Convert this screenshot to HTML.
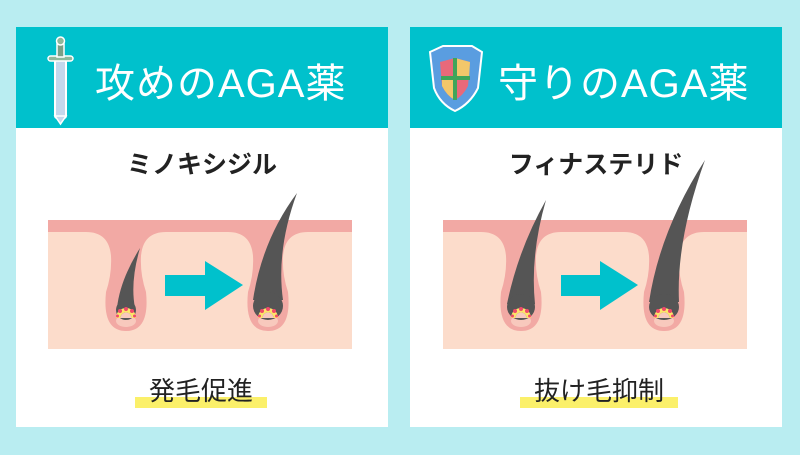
<!DOCTYPE html>
<html><head><meta charset="utf-8"><style>
body{margin:0;width:800px;height:450px;background:#b9edf1;overflow:hidden;font-family:"Liberation Sans","Noto Sans CJK JP",sans-serif}
</style></head><body>
<svg width="800" height="450" viewBox="0 0 800 450" xmlns="http://www.w3.org/2000/svg">
<defs>
<g id="fol">
  <path d="M-40,232 Q-17,232 -15,256 Q-14,274 -20,292 Q-24,331 0,331 Q24,331 20,292 Q14,274 15,256 Q17,232 40,232 Z" fill="#f2a9a4"/>
  <ellipse cx="0" cy="321" rx="10" ry="6" fill="#f8c9bd"/>
</g>
<g id="pap">
  <path d="M-10,318 A10 10 0 0 1 10,318 L5.5,318 A5.5 5.5 0 0 0 -5.5,318 Z" fill="#fde56a"/>
  <path d="M-5.5,318 A5.5 5.5 0 0 1 5.5,318 Z" fill="#f8c9bd"/>
  <circle cx="-6" cy="311" r="2" fill="#f04a6a"/><circle cx="0" cy="309" r="2" fill="#f04a6a"/><circle cx="6" cy="311" r="2" fill="#f04a6a"/><circle cx="-8.5" cy="316" r="1.5" fill="#f04a6a"/><circle cx="8.5" cy="316" r="1.5" fill="#f04a6a"/>
</g>
</defs>
<rect x="16" y="27" width="372" height="400" fill="#fff"/>
<rect x="16" y="27" width="372" height="101" fill="#00c1cc"/>
<rect x="410" y="27" width="372" height="400" fill="#fff"/>
<rect x="410" y="27" width="372" height="101" fill="#00c1cc"/>
<g>
<rect x="55" y="60" width="11" height="58" rx="2" fill="#c4d8ec" stroke="#fff" stroke-width="2"/>
<path d="M55,116 L60.5,124 L66,116 Z" fill="#c4d8ec" stroke="#fff" stroke-width="1.5"/>
<rect x="48" y="56" width="25" height="5" rx="2.5" fill="#8fb89b" stroke="#fff" stroke-width="1.5"/>
<rect x="57" y="44" width="7" height="13" fill="#7aa086" stroke="#fff" stroke-width="1.5"/>
<circle cx="60.5" cy="41" r="4" fill="#8fb89b" stroke="#fff" stroke-width="1.5"/>
</g>
<text x="95" y="97" font-size="40" fill="#fff" letter-spacing="1">攻めのAGA薬</text>
<g>
<path d="M430,52 L443,46 L472,46 L482,52 L478,88 Q470,104 455,111 Q440,104 434,88 Z" fill="#5a9de0" stroke="#fff" stroke-width="2"/>
<path d="M440,62 L455,58 L470,62 L468,86 Q463,96 455,100 Q447,96 442,86 Z" fill="#e8697a"/>
<path d="M455,58 L470,62 L469,78 L455,78 Z" fill="#f2c76a"/>
<path d="M442,78 L455,78 L455,100 Q447,96 442,86 Z" fill="#f2c76a"/>
<rect x="453" y="58" width="4" height="42" fill="#3fa55a"/><rect x="441" y="76" width="29" height="4" fill="#3fa55a"/>
</g>
<text x="498" y="97" font-size="40" fill="#fff" letter-spacing="1">守りのAGA薬</text>
<text x="202" y="173" font-size="25" font-weight="bold" fill="#222" text-anchor="middle">ミノキシジル</text>
<text x="596" y="173" font-size="25" font-weight="bold" fill="#222" text-anchor="middle">フィナステリド</text>
<rect x="48" y="220" width="304" height="129" fill="#fcdccb"/>
<rect x="48" y="220" width="304" height="12" fill="#f2a9a4"/>
<use href="#fol" transform="translate(126,0)"/>
<use href="#fol" transform="translate(268,0)"/>
<path d="M117,308 Q120,280 140,248 Q130,282 135,308 Z" fill="#555"/>
<ellipse cx="126" cy="310" rx="10" ry="10" fill="#555"/>
<use href="#pap" transform="translate(126,0)"/>
<path d="M253,300 Q262,240 297,193 Q276,250 283,300 Z" fill="#555"/>
<ellipse cx="268" cy="306" rx="15" ry="14" fill="#555"/>
<use href="#pap" transform="translate(268,0)"/>
<path d="M165,275 L205,275 L205,261 L243,285 L205,310 L205,296 L165,296 Z" fill="#00c1cc"/>
<rect x="443" y="220" width="304" height="129" fill="#fcdccb"/>
<rect x="443" y="220" width="304" height="12" fill="#f2a9a4"/>
<use href="#fol" transform="translate(521,0)"/>
<use href="#fol" transform="translate(664,0)"/>
<path d="M507,304 Q518,250 546,200 Q530,255 535,304 Z" fill="#555"/>
<ellipse cx="521" cy="307" rx="14" ry="13" fill="#555"/>
<use href="#pap" transform="translate(521,0)"/>
<path d="M649,302 Q660,230 705,160 Q676,240 679,302 Z" fill="#555"/>
<ellipse cx="664" cy="307" rx="15" ry="13" fill="#555"/>
<use href="#pap" transform="translate(664,0)"/>
<path d="M561,275 L600,275 L600,261 L638,285 L600,310 L600,296 L561,296 Z" fill="#00c1cc"/>
<rect x="135" y="397" width="132" height="11" fill="#fbf06a"/>
<text x="201" y="400" font-size="26" fill="#222" text-anchor="middle">発毛促進</text>
<rect x="520" y="397" width="158" height="11" fill="#fbf06a"/>
<text x="599" y="400" font-size="26" fill="#222" text-anchor="middle">抜け毛抑制</text>
</svg>
</body></html>
